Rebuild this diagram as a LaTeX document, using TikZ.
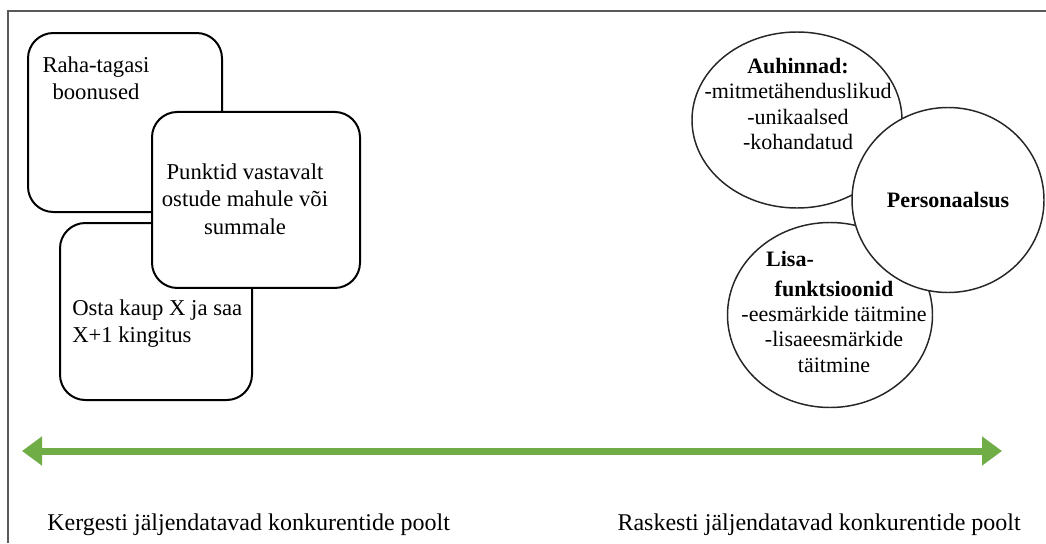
\documentclass[tikz,border=0pt]{standalone}
\usepackage{fontspec}
\setmainfont{Liberation Serif}
\usepackage{xcolor}
\usepackage{tikz}
\usetikzlibrary{shapes.geometric, arrows.meta}
\definecolor{bargreen}{HTML}{70AD47}
\definecolor{framegray}{HTML}{595959}
\tikzstyle{roundbox} = [rectangle, rounded corners=19pt, 
line width=1.5pt, 
draw=black, 
fill=white]
\tikzstyle{bubble} = [ellipse, 
inner sep=0pt, 
line width=1.1pt, 
draw=black!85, 
fill=white]
\tikzstyle{boxtext} = [inner sep=0pt, 
font=\fontsize{17}{20.5}\selectfont]
\tikzstyle{bubbletext} = [inner sep=0pt, 
align=center, 
font=\fontsize{16.5}{19}\selectfont]
\tikzstyle{scaletext} = [inner sep=0pt, 
font=\fontsize{18}{21}\selectfont]
\tikzstyle{arrow} = [bargreen, line width=5.25pt, 
{Triangle[length=15pt,width=21pt]}-{Triangle[length=15pt,width=21pt]}]

\begin{document}
\begin{tikzpicture}[x=0.75pt, y=-0.75pt, node distance=75pt]
\useasboundingbox (0,0) rectangle (1046,543);
\draw [framegray, line width=1.5pt] (8,543) -- (8,11) -- (1046,11);

% left side: easy to copy
\node (cashback) [roundbox, minimum width=145.5pt, minimum height=134.25pt] at (125,122.5) {};
\node (buyx) [roundbox, below of=cashback, minimum width=144pt, minimum height=132.75pt, xshift=23.25pt, yshift=-66.75pt] {};
\node (points) [roundbox, right of=cashback, minimum width=156pt, minimum height=132pt, xshift=23.25pt, yshift=-58.1pt] {};

\node (cashback_txt) [boxtext, align=center, anchor=north] at (96,56.5) {Raha-tagasi\\boonused};
\node (points_txt) [boxtext, align=center] at (245,199) {Punktid vastavalt\\ostude mahule või\\summale};
\node (buyx_txt) [boxtext, align=left, anchor=north west] at (72,299.5) {Osta kaup X ja saa\\X+1 kingitus};

% right side: hard to copy
\node (prizes) [bubble, minimum width=157.5pt, minimum height=132pt] at (797,120) {};
\node (extras) [bubble, below of=prizes, minimum width=153.75pt, minimum height=138.75pt, xshift=24.75pt, yshift=-71.25pt] {};
\node (personal) [bubble, right of=prizes, minimum width=144pt, minimum height=138.75pt, xshift=38.25pt, yshift=-60pt, font=\fontsize{16.5}{19}\selectfont\bfseries] {Personaalsus};

\node (prizes_txt) [bubbletext] at (798,104) {\textbf{Auhinnad:}\\-mitmetähenduslikud\\-unikaalsed\\-kohandatud};
\node (extras_txt) [bubbletext] at (834,312) {\textbf{Lisa-}\hspace*{66pt}\\[3pt]\textbf{funktsioonid}\hspace*{28.5pt}\\-eesmärkide täitmine\\-lisaeesmärkide\\täitmine};

% scale
\coordinate (easy) at (22,451);
\coordinate (hard) at (1002,451);
\draw [arrow] (easy) -- (hard);

\node (easy_txt) [scaletext, anchor=base west] at (47,530) {Kergesti jäljendatavad konkurentide poolt};
\node (hard_txt) [scaletext, anchor=base east] at (1021,530) {Raskesti jäljendatavad konkurentide poolt};

\end{tikzpicture}
\end{document}
